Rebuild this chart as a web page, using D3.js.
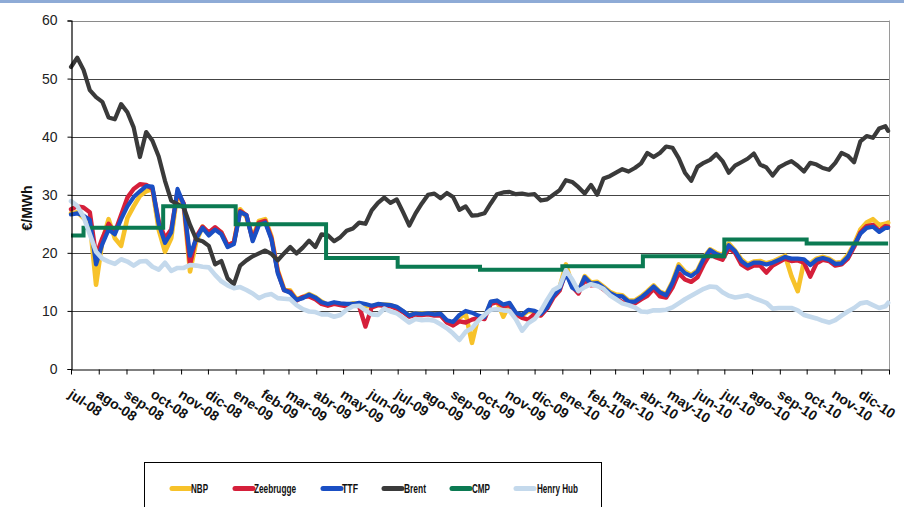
<!DOCTYPE html>
<html><head><meta charset="utf-8">
<script src="https://cdn.jsdelivr.net/npm/d3@7"></script>
<style>body{margin:0;background:#fff}svg{display:block}</style>
</head><body>
<svg id="c" width="904" height="507"></svg>
<script>
const dates = [
"2008-07-01","2008-07-08","2008-07-15","2008-07-22","2008-07-29","2008-08-05","2008-08-12","2008-08-19","2008-08-26","2008-09-02",
"2008-09-09","2008-09-16","2008-09-23","2008-09-30","2008-10-07","2008-10-14","2008-10-21","2008-10-28","2008-11-04","2008-11-11",
"2008-11-18","2008-11-25","2008-12-02","2008-12-09","2008-12-16","2008-12-23","2008-12-30","2009-01-06","2009-01-13","2009-01-20",
"2009-01-27","2009-02-03","2009-02-10","2009-02-17","2009-02-24","2009-03-03","2009-03-10","2009-03-17","2009-03-24","2009-03-31",
"2009-04-07","2009-04-14","2009-04-21","2009-04-28","2009-05-05","2009-05-12","2009-05-19","2009-05-26","2009-06-02","2009-06-09",
"2009-06-16","2009-06-23","2009-06-30","2009-07-07","2009-07-14","2009-07-21","2009-07-28","2009-08-04","2009-08-11","2009-08-18",
"2009-08-25","2009-09-01","2009-09-08","2009-09-15","2009-09-22","2009-09-29","2009-10-06","2009-10-13","2009-10-20","2009-10-27",
"2009-11-03","2009-11-10","2009-11-17","2009-11-24","2009-12-01","2009-12-08","2009-12-15","2009-12-22","2009-12-29","2010-01-05",
"2010-01-12","2010-01-19","2010-01-26","2010-02-02","2010-02-09","2010-02-16","2010-02-23","2010-03-02","2010-03-09","2010-03-16",
"2010-03-23","2010-03-30","2010-04-06","2010-04-13","2010-04-20","2010-04-27","2010-05-04","2010-05-11","2010-05-18","2010-05-25",
"2010-06-01","2010-06-08","2010-06-15","2010-06-22","2010-06-29","2010-07-06","2010-07-13","2010-07-20","2010-07-27","2010-08-03",
"2010-08-10","2010-08-17","2010-08-24","2010-08-31","2010-09-07","2010-09-14","2010-09-21","2010-09-28","2010-10-05","2010-10-12",
"2010-10-19","2010-10-26","2010-11-02","2010-11-09","2010-11-16","2010-11-23","2010-11-30","2010-12-07","2010-12-14","2010-12-21",
"2010-12-28","2010-12-31"];

const nbp = [
26.8,27.0,26.0,25.3,14.5,22.0,25.8,22.5,21.2,26.0,
28.0,29.8,30.6,31.0,24.0,20.2,22.5,30.5,28.0,16.8,
22.0,24.5,23.2,24.2,23.5,21.2,21.8,27.5,26.2,22.6,
25.5,25.8,22.8,17.0,13.8,13.5,12.0,12.4,12.9,12.4,
11.6,11.0,11.3,11.2,11.0,11.3,11.2,10.8,10.8,11.1,
11.1,11.0,10.6,9.9,9.2,9.6,9.6,9.5,9.4,9.4,
8.2,7.8,8.8,9.5,4.5,9.0,8.8,11.4,11.7,9.0,
11.2,9.6,9.2,10.0,9.9,9.3,10.8,12.8,14.0,18.0,
14.5,13.2,16.0,14.9,15.0,14.2,13.3,12.8,12.7,11.8,
11.8,12.5,13.4,14.4,13.3,12.9,15.0,18.0,16.8,16.2,
17.0,19.2,20.6,20.0,19.6,21.6,20.4,18.9,18.0,18.5,
18.6,18.2,18.5,19.0,19.5,16.0,13.4,18.5,18.2,19.0,
19.3,19.0,18.3,18.4,19.6,21.5,24.0,25.2,25.8,24.8,
25.0,25.2];

const zeebrugge = [
27.5,28.0,27.8,27.0,19.5,22.5,25.0,23.5,26.5,29.5,
31.0,31.8,31.7,31.0,25.5,22.5,24.0,30.5,28.5,18.0,
22.8,24.5,23.5,24.4,23.5,21.3,21.8,27.2,26.5,22.3,
25.2,25.5,22.5,16.8,13.6,13.3,11.8,12.4,12.5,12.0,
11.2,10.9,11.2,11.0,10.8,11.0,10.8,7.3,10.6,11.0,
10.9,10.8,10.4,9.8,9.0,9.3,9.3,9.4,9.2,9.2,
8.0,7.5,8.2,8.0,8.5,8.8,8.6,11.2,11.5,10.8,
11.0,9.4,8.8,8.5,9.5,9.2,10.4,12.3,13.5,16.8,
14.2,13.0,15.3,14.4,14.5,13.7,12.8,12.2,11.5,11.2,
11.3,12.0,12.6,13.8,12.5,12.3,14.0,16.5,15.4,15.0,
15.8,18.0,19.8,19.2,18.8,20.8,20.0,18.0,17.3,17.8,
17.8,16.6,17.8,18.4,19.0,18.6,18.7,18.3,15.9,18.2,
18.8,18.6,17.8,18.0,19.0,21.0,23.5,24.6,24.8,23.8,
24.6,24.5];

const ttf = [
26.6,26.8,26.4,25.7,18.0,21.5,24.0,23.2,25.8,28.0,
29.6,30.6,31.5,31.4,25.0,21.7,23.5,31.0,28.3,19.5,
22.5,24.3,23.0,24.0,23.2,21.0,21.5,27.0,26.5,22.0,
24.8,25.2,22.3,16.5,13.6,13.1,11.9,12.2,12.8,12.3,
11.5,11.2,11.5,11.3,11.2,11.2,11.4,11.2,10.9,11.2,
11.1,11.0,10.7,10.0,9.2,9.6,9.5,9.6,9.4,9.5,
8.4,8.1,9.3,10.0,9.7,9.2,8.9,11.6,11.8,11.1,
11.4,9.7,9.3,10.2,10.0,9.5,10.6,12.6,13.8,16.5,
14.0,13.4,15.8,14.7,14.8,14.0,13.1,12.6,12.5,11.6,
11.6,12.3,13.2,14.2,13.2,12.7,14.8,17.6,16.5,16.0,
16.8,19.0,20.5,19.8,19.4,21.3,20.3,18.6,17.8,18.3,
18.3,18.0,18.3,18.8,19.3,19.0,19.0,18.9,17.9,18.8,
19.1,18.8,18.1,18.2,19.3,21.3,23.3,24.3,24.5,23.6,
24.3,24.3];

const brent = [
52.0,53.6,51.5,48.0,46.8,46.0,43.3,43.0,45.6,44.2,
41.6,36.5,40.8,39.3,36.6,32.4,29.0,28.4,27.8,24.8,
22.3,22.0,21.2,18.0,18.6,15.6,14.6,17.8,18.7,19.4,
19.9,20.4,19.8,18.7,19.9,21.0,19.9,20.9,22.1,21.0,
23.2,23.0,22.0,22.7,23.8,24.2,25.2,25.0,27.3,28.6,
29.5,28.6,29.2,27.0,24.7,26.8,28.5,30.0,30.2,29.4,
30.3,29.6,27.4,28.0,26.4,26.5,26.8,28.5,30.1,30.4,
30.5,30.1,30.2,30.0,30.1,29.0,29.2,30.0,30.8,32.5,
32.2,31.3,30.2,31.7,30.0,32.8,33.2,33.8,34.4,34.0,
34.6,35.4,37.2,36.5,37.2,38.3,38.1,36.3,33.8,32.4,
34.8,35.5,36.0,37.0,35.8,33.8,35.0,35.6,36.2,37.1,
35.2,34.7,33.3,34.7,35.3,35.8,35.0,34.0,35.5,35.2,
34.6,34.3,35.5,37.2,36.7,35.6,39.2,40.1,39.8,41.4,
41.8,41.0];

const henryHub = [
28.9,28.1,26.2,23.2,20.2,19.0,18.5,18.1,18.9,18.5,
17.8,18.5,18.6,17.6,17.1,18.3,16.9,17.4,17.4,17.9,
17.8,17.6,17.5,16.2,15.1,14.4,13.9,14.1,13.6,13.0,
12.2,12.7,12.9,12.2,12.1,12.0,11.0,10.3,9.9,9.8,
9.4,9.4,9.0,9.3,10.2,10.8,10.9,10.1,9.4,9.3,
10.4,9.9,9.6,8.8,8.0,8.6,8.4,8.5,8.3,7.7,
7.0,6.1,5.0,6.4,7.0,8.3,9.3,10.2,10.3,10.1,
10.0,8.6,6.6,7.9,8.6,10.0,11.9,13.6,14.2,17.0,
15.4,13.4,14.1,14.6,14.3,13.8,12.7,12.0,11.3,11.0,
10.6,9.9,9.8,10.1,10.1,10.2,10.6,11.3,12.0,12.6,
13.2,13.8,14.2,14.1,13.2,12.6,12.3,12.5,12.7,12.2,
11.8,11.4,10.4,10.5,10.5,10.5,10.1,9.3,9.0,8.7,
8.3,8.0,8.4,9.2,9.9,10.5,11.3,11.5,11.0,10.5,
10.8,11.4];

const cmpDates = ["2008-07-01","2008-07-15","2008-10-12","2009-01-01","2009-04-12","2009-07-01","2009-10-01","2010-01-01","2010-04-01","2010-07-01","2010-10-01","2010-12-31"];
const cmpValues = [23.0,24.3,28.0,24.9,19.1,17.6,17.1,17.7,19.4,22.3,21.6,21.6];

const monthLabels = ["jul-08","ago-08","sep-08","oct-08","nov-08","dic-08","ene-09","feb-09","mar-09","abr-09","may-09","jun-09",
"jul-09","ago-09","sep-09","oct-09","nov-09","dic-09","ene-10","feb-10","mar-10","abr-10","may-10","jun-10",
"jul-10","ago-10","sep-10","oct-10","nov-10","dic-10"];
const yTicks = [0,10,20,30,40,50,60];

const seriesNames = ["NBP","Zeebrugge","TTF","Brent","CMP","Henry Hub"];
const seriesColors = ["#f7c22a","#d51f3a","#1a4fc4","#3a3a3a","#0b7a52","#c4d9ec"];

const svg = d3.select("#c");
const parse = d3.utcParse("%Y-%m-%d");
const x = d3.scaleUtc().domain([parse("2008-07-01"), parse("2011-01-01")]).range([71, 889]);
const y = d3.scaleLinear().domain([0, 60]).range([369, 20.5]);

svg.append("rect").attr("x",0).attr("y",0).attr("width",904).attr("height",3).attr("fill","#8eabd6");

// gridlines
svg.append("g").selectAll("line").data(yTicks.filter(v => v > 0)).join("line")
  .attr("x1", 71).attr("x2", 889)
  .attr("y1", d => Math.round(y(d)) + 0.5).attr("y2", d => Math.round(y(d)) + 0.5)
  .attr("stroke", d => d === 60 ? "#8a8a8a" : "#444").attr("stroke-width", 1.2);
// right border
svg.append("line").attr("x1", 889.5).attr("x2", 889.5).attr("y1", y(60)).attr("y2", y(0))
  .attr("stroke", "#9a9a9a");

// series
const pts = vals => dates.map((d, i) => [parse(d), vals[i]]);
const line = d3.line().x(d => x(d[0])).y(d => y(d[1])).curve(d3.curveLinear);
const stepLine = d3.line().x(d => x(d[0])).y(d => y(d[1])).curve(d3.curveStepAfter);
const plotG = svg.append("g").attr("fill", "none").attr("stroke-linejoin", "round").attr("stroke-linecap", "round");
const lineSeries = [[nbp, 0, 4.6], [zeebrugge, 1, 4.4], [ttf, 2, 4.2], [brent, 3, 4.2]];
lineSeries.forEach(([v, k, w]) => {
  plotG.append("path").attr("d", line(pts(v))).attr("stroke", seriesColors[k]).attr("stroke-width", w);
});
plotG.append("path").attr("d", stepLine(cmpDates.map((d, i) => [parse(d), cmpValues[i]])))
  .attr("stroke", seriesColors[4]).attr("stroke-width", 4).attr("stroke-linecap", "butt").attr("stroke-linejoin","miter");
plotG.append("path").attr("d", line(pts(henryHub))).attr("stroke", seriesColors[5]).attr("stroke-width", 4.6);

// y axis
const yAxis = svg.append("g").attr("transform", "translate(71.5,0)")
  .call(d3.axisLeft(y).tickValues(yTicks).tickSize(4).tickPadding(10).tickFormat(d3.format("d")));
yAxis.select(".domain").attr("stroke", "#000").attr("stroke-width", 1.2);
yAxis.selectAll(".tick line").attr("stroke", "#000");
yAxis.selectAll("text").attr("font-family", "'Liberation Sans', Arial, sans-serif").attr("font-size", 14).attr("fill", "#222");

// x axis
const monthTicks = d3.utcMonth.range(parse("2008-07-01"), parse("2011-01-02"));
const xAxis = svg.append("g").attr("transform", "translate(0,369.5)")
  .call(d3.axisBottom(x).tickValues(monthTicks).tickSize(5).tickSizeOuter(0).tickFormat((d, i) => monthLabels[i] || ""));
xAxis.select(".domain").attr("stroke", "#000").attr("stroke-width", 1.2);
xAxis.selectAll(".tick line").attr("stroke", "#000");
xAxis.selectAll("text")
  .attr("x", 0).attr("y", 0).attr("dy", null)
  .attr("text-anchor", "start")
  .attr("transform", "translate(-4,27) rotate(34)")
  .attr("font-family", "'Liberation Sans', Arial, sans-serif").attr("font-weight", "bold").attr("font-size", 14).attr("fill", "#111");

// y label
svg.append("text").attr("transform", "translate(32,208) rotate(-90)").attr("text-anchor", "middle")
  .attr("font-family", "'Liberation Sans', Arial, sans-serif").attr("font-weight", "bold").attr("font-size", 14)
  .attr("fill", "#111").text("€/MWh");

// legend
const legendX1 = [172, 235, 323, 384, 452, 516];
const legendTextX = [191, 254, 342, 404, 472, 537];
const legendTextW = [17, 42, 16, 22, 18, 41];
const lg = svg.append("g");
lg.append("rect").attr("x", 144.5).attr("y", 462.5).attr("width", 457).attr("height", 60).attr("fill", "#fff").attr("stroke", "#000");
seriesNames.forEach((n, i) => {
  lg.append("line").attr("x1", legendX1[i]).attr("x2", legendX1[i] + 18).attr("y1", 488.5).attr("y2", 488.5)
    .attr("stroke", seriesColors[i]).attr("stroke-width", 5).attr("stroke-linecap", "round");
  lg.append("text").attr("x", legendTextX[i]).attr("y", 492.5)
    .attr("font-family", "'Liberation Sans Narrow', 'Arial Narrow', 'Liberation Sans', sans-serif").attr("font-weight", "bold")
    .attr("font-size", 12).attr("fill", "#111")
    .attr("textLength", legendTextW[i]).attr("lengthAdjust", "spacingAndGlyphs").text(n);
});
</script>
</body></html>
